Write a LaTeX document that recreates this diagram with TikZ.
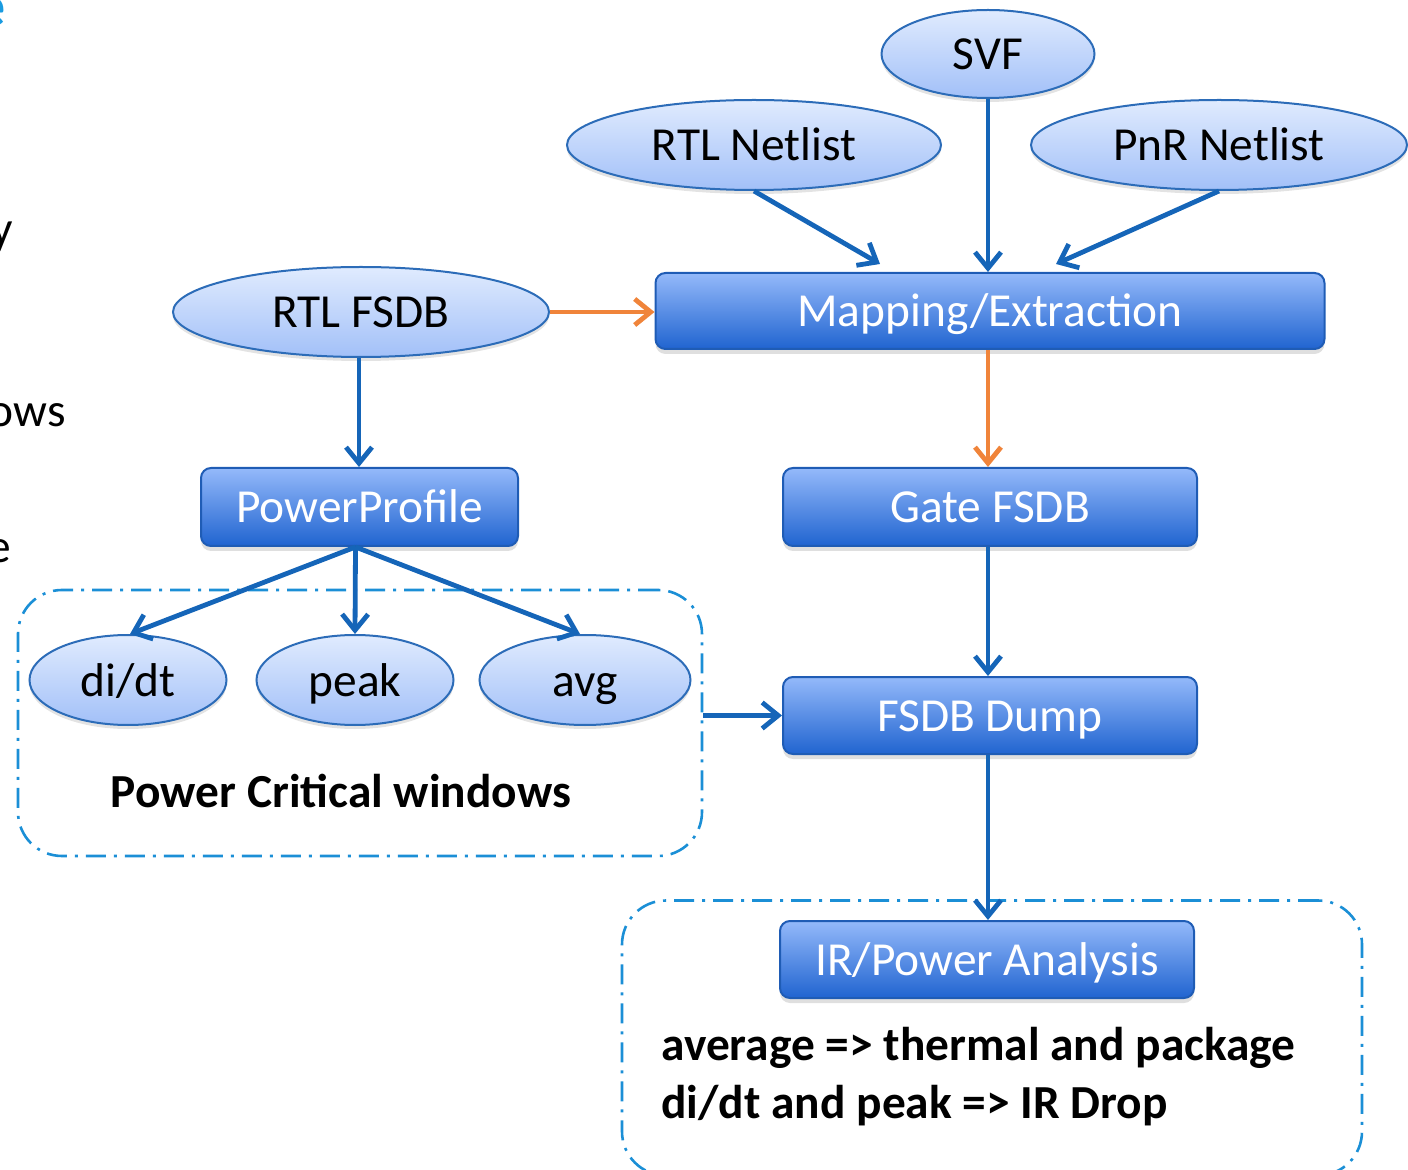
\documentclass[tikz,border=0pt]{standalone}
\usepackage{fontspec}
\setmainfont{Carlito}
\usetikzlibrary{arrows.meta,shapes.geometric,shadows,calc}
\definecolor{arrblue}{HTML}{1565B8}
\definecolor{arrorange}{HTML}{F0843A}
\definecolor{dashblue}{HTML}{1B8FD6}
\definecolor{elltop}{HTML}{E0EBFE}
\definecolor{ellbot}{HTML}{A2C0F8}
\definecolor{ellborder}{HTML}{2C6CB8}
\definecolor{boxtop}{HTML}{94B9FA}
\definecolor{boxbot}{HTML}{2064D0}
\definecolor{boxborder}{HTML}{1F5CB5}
\definecolor{titleblue}{HTML}{1A9BE0}
\newcommand\fsz{\fontsize{23.7pt}{28pt}\selectfont}
\begin{document}
\begin{tikzpicture}[x=0.5pt,y=-0.5pt,
  ell/.style={ellipse, draw=ellborder, line width=1pt, top color=elltop, bottom color=ellbot,
    inner sep=0pt, font=\fsz, text=black, text height=19pt, text depth=3pt,
    drop shadow={opacity=0.22, shadow xshift=0pt, shadow yshift=-2pt}},
  procbox/.style={rectangle, rounded corners=5pt, draw=boxborder, line width=1pt,
    top color=boxtop, bottom color=boxbot, inner sep=0pt, font=\fsz, text=white,
    text height=19pt, text depth=3pt,
    drop shadow={opacity=0.25, shadow xshift=0pt, shadow yshift=-2.5pt}},
  dashbox/.style={rectangle, rounded corners=22pt, draw=dashblue, line width=1.3pt,
    dash pattern=on 10pt off 4pt on 1.5pt off 4pt, inner sep=0pt},
  arr/.style={draw=arrblue, line width=2.4pt, -{Straight Barb[length=8pt,width=13pt]}},
  oarr/.style={draw=arrorange, line width=2.4pt, -{Straight Barb[length=8pt,width=13pt]}},
  boldtxt/.style={font=\fsz\bfseries, text=black, inner sep=0pt},
  sidetxt/.style={font=\fsz, text=black, inner sep=0pt, anchor=base east}
]
\useasboundingbox (0,0) rectangle (1408,1170);
\clip (0,0) rectangle (1408,1170);

% clipped fragments at left edge
\node[font=\fontsize{30pt}{34pt}\selectfont\bfseries, text=titleblue, inner sep=0pt, anchor=base east] (frag0) at (6,27) {e};
\node[sidetxt] (frag1) at (13,245) {y};
\node[sidetxt] (frag2) at (66,427) {ows};
\node[sidetxt] (frag3) at (11,563) {e};

% dashed group boxes
\node[dashbox, minimum width=342pt, minimum height=133pt] (pcw) at (360,723) {};
\node[dashbox, minimum width=370pt, minimum height=137.5pt] (irgrp) at (992,1038) {};

% ellipses
\node[ell, minimum width=106.5pt, minimum height=44pt] (svf) at (988,54) {SVF};
\node[ell, minimum width=187pt, minimum height=45pt] (rtlnet) at (754,145) {RTL Netlist};
\node[ell, minimum width=188pt, minimum height=45pt] (pnrnet) at (1219,145) {PnR Netlist};
\node[ell, minimum width=188pt, minimum height=45pt] (rtlfsdb) at (361,312) {RTL FSDB};
\node[ell, minimum width=98.5pt, minimum height=45pt] (didt) at (128,680) {di/dt};
\node[ell, minimum width=98.5pt, minimum height=45pt] (peak) at (355,680) {peak};
\node[ell, minimum width=105.5pt, minimum height=45pt] (avg) at (585,680) {avg};

% process boxes
\node[procbox, minimum width=334.5pt, minimum height=38pt] (map) at (990,311) {Mapping/Extraction};
\node[procbox, minimum width=158.5pt, minimum height=39pt] (pp) at (359.5,507) {PowerProfile};
\node[procbox, minimum width=207pt, minimum height=39pt] (gate) at (990,507) {Gate FSDB};
\node[procbox, minimum width=207pt, minimum height=38.5pt] (dump) at (990,715.5) {FSDB Dump};
\node[procbox, minimum width=207pt, minimum height=38.5pt] (irp) at (987,959.5) {IR/Power Analysis};

% texts
\node[boldtxt, anchor=base] (pcwtxt) at (341,807) {Power Critical windows};
\node[boldtxt, anchor=base west] (line1) at (661,1060) {average => thermal and package};
\node[boldtxt, anchor=base west] (line2) at (661,1118) {di/dt and peak => IR Drop};

% connector end points
\coordinate (mapL) at (880,264);
\coordinate (mapR) at (1056,264);

% connectors
\draw[arr] (rtlnet.south) -- (mapL);
\draw[arr] (svf.south) -- (svf.south |- map.north);
\draw[arr] (pnrnet.south) -- (mapR);
\draw[oarr] (rtlfsdb.east) -- (rtlfsdb.east -| map.west);
\draw[oarr] ([xshift=-1pt]map.south) -- ([xshift=-1pt]map.south |- gate.north);
\draw[arr] ([xshift=-1pt]rtlfsdb.south) -- ([xshift=-1pt]rtlfsdb.south |- pp.north);
\draw[arr] ([xshift=-2pt]pp.south) -- ([xshift=1pt]didt.north);
\draw[arr] ([xshift=-2pt]pp.south) -- (peak.north);
\draw[arr] ([xshift=-2pt]pp.south) -- ([xshift=-2.5pt]avg.north);
\draw[arr] ([xshift=-1pt]gate.south) -- ([xshift=-1pt]gate.south |- dump.north);
\draw[arr] (pcw.east |- dump.west) -- (dump.west);
\draw[arr] ([xshift=-1pt]dump.south) -- ([xshift=-1pt]dump.south |- irp.north);
\end{tikzpicture}
\end{document}
